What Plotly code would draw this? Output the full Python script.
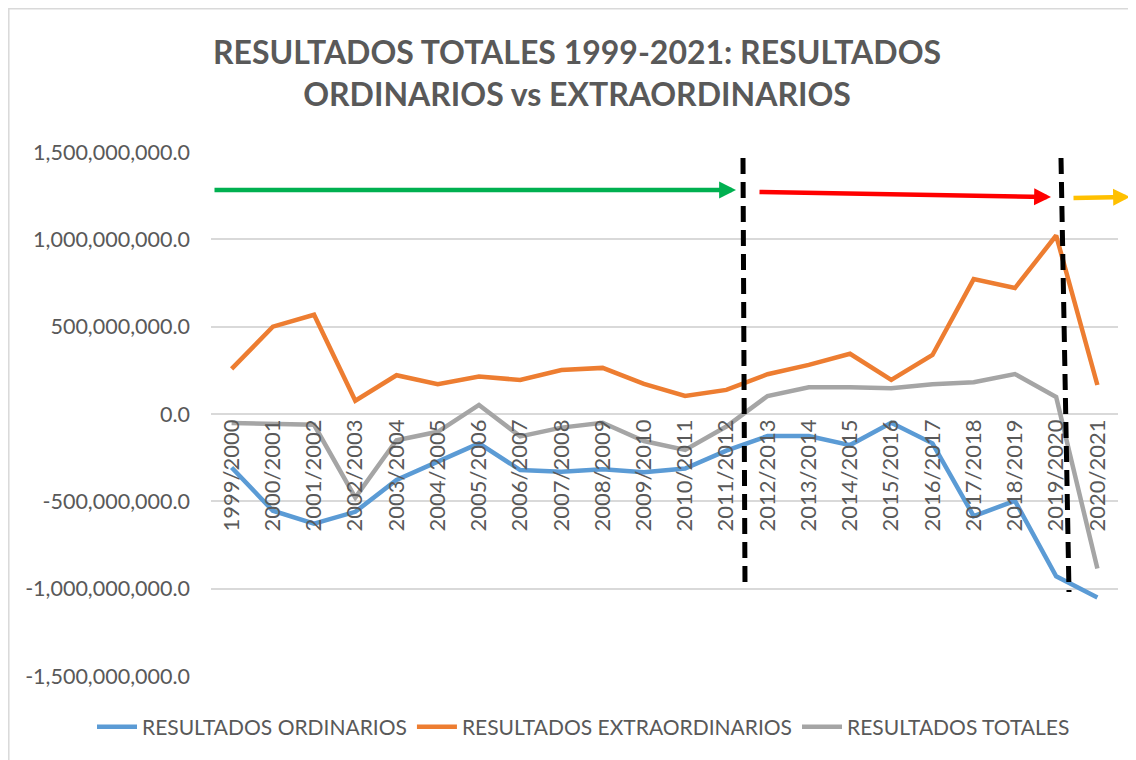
import plotly.graph_objects as go

categories = ["1999/2000", "2000/2001", "2001/2002", "2002/2003", "2003/2004", "2004/2005",
              "2005/2006", "2006/2007", "2007/2008", "2008/2009", "2009/2010", "2010/2011",
              "2011/2012", "2012/2013", "2013/2014", "2014/2015", "2015/2016", "2016/2017",
              "2017/2018", "2018/2019", "2019/2020", "2020/2021"]

ordinarios = [-306e6, -554e6, -628e6, -560e6, -378e6, -273e6, -168e6, -321e6, -331e6, -317e6,
              -333e6, -312e6, -210e6, -126e6, -126e6, -178e6, -50e6, -168e6, -585e6, -497e6,
              -929e6, -1051e6]
extraordinarios = [258e6, 500e6, 568e6, 76e6, 222e6, 170e6, 214e6, 195e6, 252e6, 264e6,
                   172e6, 103e6, 138e6, 228e6, 281e6, 345e6, 195e6, 338e6, 772e6, 721e6,
                   1022e6, 166e6]
totales = [-52e6, -56e6, -62e6, -478e6, -150e6, -102e6, 52e6, -128e6, -78e6, -50e6,
           -155e6, -206e6, -72e6, 103e6, 153e6, 153e6, 147e6, 170e6, 182e6, 229e6,
           97e6, -885e6]

series_names = ["RESULTADOS ORDINARIOS", "RESULTADOS EXTRAORDINARIOS", "RESULTADOS TOTALES"]
series_colors = ["#5B9BD5", "#ED7D31", "#A5A5A5"]

y_tickvals = [-1.5e9, -1.0e9, -0.5e9, 0, 0.5e9, 1.0e9, 1.5e9]
y_ticktext = ["-1,500,000,000.0", "-1,000,000,000.0", "-500,000,000.0", "0.0",
              "500,000,000.0", "1,000,000,000.0", "1,500,000,000.0"]

title_text = "RESULTADOS TOTALES 1999-2021: RESULTADOS<br>ORDINARIOS vs EXTRAORDINARIOS"

FONT = "Lato"
TXT = "#595959"

# the page body adds an 8px margin; the figure is sized to fit the window
OFF = 8
FW, FH = 1136 - OFF, 760 - OFF

fig = go.Figure()
for name, vals, col in zip(series_names, [ordinarios, extraordinarios, totales], series_colors):
    fig.add_trace(go.Scatter(x=categories, y=vals, mode="lines", name=name,
                             line=dict(color=col, width=4.5)))

# plot area in screen pixels: x 211..1118, y 152..676
L, R, T, B = 211 - OFF, 1118 - OFF, 152 - OFF, 676 - OFF
W, H = R - L, B - T
def px(x):
    return (x - OFF - L) / W
def py(y):
    return (B - (y - OFF)) / H

shapes = [
    dict(type="line", xref="paper", yref="paper", x0=px(743), y0=py(158), x1=px(745), y1=py(585),
         line=dict(color="black", width=5, dash="16px,8px")),
    dict(type="line", xref="paper", yref="paper", x0=px(1061), y0=py(158), x1=px(1069), y1=py(592),
         line=dict(color="black", width=5, dash="16px,8px")),
    dict(type="rect", xref="paper", yref="paper", x0=px(8.8), y0=py(8.8), x1=px(1160), y1=py(790),
         line=dict(color="#D9D9D9", width=1.5), fillcolor="rgba(0,0,0,0)"),
]

annotations = [
    dict(xref="paper", yref="paper", x=px(736), y=py(190), ax=213 - 736, ay=0, text="",
         showarrow=True, arrowhead=2, arrowsize=0.75, arrowwidth=4.5, arrowcolor="#00B050"),
    dict(xref="paper", yref="paper", x=px(1051), y=py(197), ax=758 - 1051, ay=-5, text="",
         showarrow=True, arrowhead=2, arrowsize=0.75, arrowwidth=4.5, arrowcolor="#FF0000"),
    dict(xref="paper", yref="paper", x=px(1130), y=py(197), ax=1072 - 1130, ay=1, text="",
         showarrow=True, arrowhead=2, arrowsize=0.75, arrowwidth=4.5, arrowcolor="#FFC000"),
]

fig.update_layout(
    width=FW, height=FH,
    margin=dict(l=L, r=FW - R, t=T, b=FH - B, autoexpand=False),
    paper_bgcolor="white", plot_bgcolor="white",
    title=dict(text=title_text, x=(577 - OFF) / FW, xref="container", xanchor="center",
               y=1 - 56 / FH, yref="container", yanchor="top",
               font=dict(family=FONT, size=32, color=TXT, weight="bold")),
    xaxis=dict(type="category", anchor="free", position=0.5, tickangle=-90,
               showgrid=False, showline=False, zeroline=False, ticks="",
               tickfont=dict(family=FONT, size=22, color=TXT),
               range=[-0.5, len(categories) - 0.5]),
    yaxis=dict(range=[-1.5e9, 1.5e9], tickvals=y_tickvals, ticktext=y_ticktext,
               showgrid=True, gridcolor="#D9D9D9", gridwidth=1.5, zeroline=False,
               showline=False, ticks="", ticklabelstandoff=20,
               tickfont=dict(family=FONT, size=21.5, color=TXT)),
    legend=dict(orientation="h", xref="paper", yref="paper",
                x=px(92), xanchor="left", y=py(727), yanchor="middle",
                font=dict(family=FONT, size=21, color=TXT), itemwidth=40, tracegroupgap=0),
    shapes=shapes, annotations=annotations,
)

fig.write_html("out.html")
